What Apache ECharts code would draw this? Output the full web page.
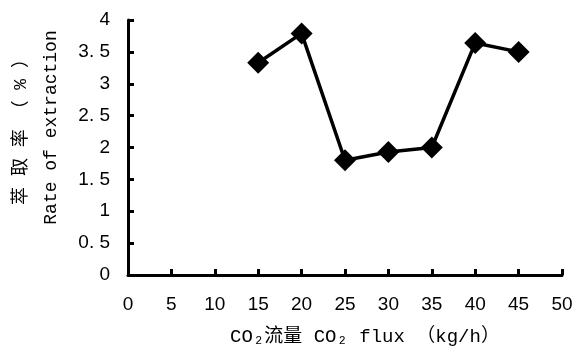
<!DOCTYPE html>
<html><head><meta charset="utf-8">
<script src="https://cdn.jsdelivr.net/npm/echarts@6/dist/echarts.min.js"></script>
<style>html,body{margin:0;padding:0;background:#fff}#c{width:575px;height:353px}</style>
</head><body><div id="c"></div>
<script>
const fluxValues = [15, 20, 25, 30, 35, 40, 45];
const extractionRates = [3.33, 3.79, 1.8, 1.93, 2.0, 3.64, 3.5];
const xTitle = 'CO₂流量 CO₂ flux （kg/h）';
const yTitleCN = '萃 取 率 （ % ）';
const yTitleEN = 'Rate of extraction';

const chart = echarts.init(document.getElementById('c'));
const tickFont = {color:'#000', fontFamily:'"Liberation Sans Narrow","Liberation Sans",Arial,sans-serif', fontSize:19};
chart.setOption({
  animation:false,
  grid:{left:128, right:13, top:20, bottom:78, containLabel:false, outerBoundsMode:'none'},
  xAxis:{
    type:'value', min:0, max:50, interval:5,
    name:xTitle, nameLocation:'middle', nameGap:52,
    nameTextStyle:{color:'#000', fontFamily:'"Liberation Mono","Noto Sans CJK SC",monospace', fontSize:19, padding:[0,0,0,40]},
    axisLine:{lineStyle:{color:'#000', width:3}},
    axisTick:{inside:true, length:6, lineStyle:{color:'#000', width:3}},
    axisLabel:Object.assign({margin:20}, tickFont),
    splitLine:{show:false}
  },
  yAxis:{
    type:'value', min:0, max:4, interval:0.5,
    name:yTitleCN + '\n' + yTitleEN, nameLocation:'middle', nameGap:62, nameRotate:90,
    nameTextStyle:{color:'#000', fontFamily:'"Liberation Mono","Noto Sans CJK SC",monospace', fontSize:18, lineHeight:30, padding:[0,0,0,40]},
    axisLine:{lineStyle:{color:'#000', width:3}},
    axisTick:{inside:true, length:6, lineStyle:{color:'#000', width:3}},
    axisLabel:Object.assign({margin:18, formatter:v => String(v).replace('.', '. ')}, tickFont),
    splitLine:{show:false}
  },
  series:[{
    type:'line',
    data:fluxValues.map((x,i)=>[x, extractionRates[i]]),
    symbol:'diamond', symbolSize:22,
    itemStyle:{color:'#000'},
    lineStyle:{color:'#000', width:3.5}
  }]
});
</script></body></html>
